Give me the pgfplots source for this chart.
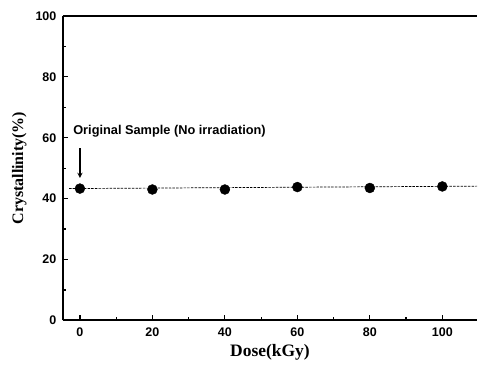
\documentclass[border=0pt]{standalone}
\usepackage{fontspec}
\setmainfont{Liberation Serif}
\newfontfamily\arial{Liberation Sans}
\usepackage{pgfplots}
\pgfplotsset{compat=1.18}
\begin{document}
\begin{tikzpicture}
\begin{axis}[
  scale only axis,
  width=415pt, height=305pt,
  xmin=-4.7, xmax=109.6,
  ymin=0, ymax=100,
  axis lines=left,
  axis line style={line width=1.8pt, -},
  xtick={0,20,40,60,80,100},
  ytick={0,20,40,60,80,100},
  minor xtick={10,30,50,70,90},
  minor ytick={10,30,50,70,90},
  tick align=inside,
  major tick length=5pt, minor tick length=3pt,
  tick style={line width=1.2pt, black},
  /pgf/number format/assume math mode=true,
  ticklabel style={font=\arial\bfseries\fontsize{12.5}{13}\selectfont},
  xticklabel style={yshift=-4pt},
  yticklabel style={xshift=-3pt},
  xlabel={\bfseries\fontsize{17.5}{18}\selectfont Dose(kGy)},
  ylabel={\bfseries\fontsize{16}{17}\selectfont Crystallinity(\%)},
  xlabel style={yshift=-1pt},
  ylabel style={yshift=2pt},
  clip=false,
]
\addplot[black, line width=0.7pt, dash pattern=on 2.5pt off 1.2pt] coordinates {(-3,43.3) (109.6,44.1)};
\addplot[only marks, mark=*, mark size=5pt, black] coordinates {
(0,43.3) (20,43.0) (40,43.0) (60,43.8) (80,43.5) (100,44.0)};
\draw[line width=1.2pt] (rel axis cs:0,1) -- (rel axis cs:1,1);
\node[anchor=west, font=\arial\bfseries\fontsize{12.8}{13}\selectfont] at (axis cs:-2.8,62) {Original Sample (No irradiation)};
\draw[line width=1.3pt, -{stealth}] (axis cs:0,56.5) -- (axis cs:0,46.8);
\end{axis}
\path[use as bounding box] (-63pt,-48pt) rectangle (415pt,321pt);
\end{tikzpicture}
\end{document}
